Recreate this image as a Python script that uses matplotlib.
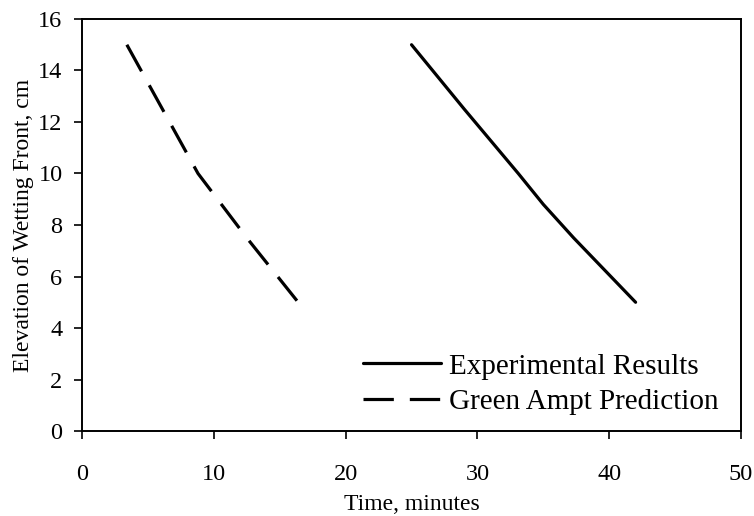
import matplotlib
matplotlib.use("Agg")
import matplotlib.pyplot as plt

exp_time = [25.0, 29.0, 33.1, 35.0, 37.3, 42.0]
exp_elev = [15.0, 12.5, 10.0, 8.8, 7.5, 5.0]
ga_time = [3.4, 6.1, 8.8, 12.5, 16.4]
ga_elev = [15.0, 12.5, 10.0, 7.5, 5.0]
xticks = [0, 10, 20, 30, 40, 50]
yticks = [0, 2, 4, 6, 8, 10, 12, 14, 16]

plt.rcParams['font.family'] = ['Liberation Serif', 'DejaVu Serif']

fig = plt.figure(figsize=(7.54, 5.16), dpi=100)
ax = fig.add_axes([0.1088, 0.1647, 0.874, 0.7985])

ax.plot(exp_time, exp_elev, color='black', lw=2.3, solid_capstyle='round',
        label='Experimental Results')
ax.plot(ga_time, ga_elev, color='black', lw=2.3, dashes=(9.5, 5.0),
        label='Green Ampt Prediction')

ax.set_xlim(0, 50)
ax.set_ylim(0, 16)
ax.set_xticks(xticks)
ax.set_yticks(yticks)
ax.tick_params(direction='out', length=6, width=1.2, labelsize=17.5, colors='black')
ax.tick_params(axis='x', pad=18)
ax.tick_params(axis='y', pad=8)
for s in ax.spines.values():
    s.set_linewidth(1.4)
    s.set_color('black')

ax.set_xlabel('Time, minutes', fontsize=17, labelpad=6)
ax.set_ylabel('Elevation of Wetting Front, cm', fontsize=17, labelpad=3)

ax.legend(loc='lower right', bbox_to_anchor=(0.983, 0.011), frameon=False, fontsize=21,
          handlelength=2.65, handletextpad=0.27, labelspacing=0.3, borderaxespad=0)

fig.savefig('out.png', dpi=100)
